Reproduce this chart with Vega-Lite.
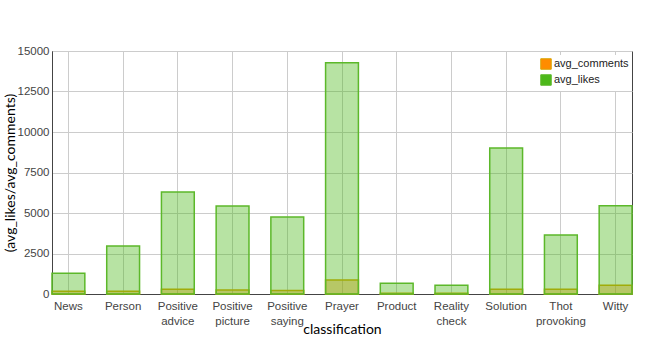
{
  "$schema": "https://vega.github.io/schema/vega-lite/v6.json",
  "width": 580,
  "height": 243,
  "autosize": {"type": "none"},
  "padding": {"left": 52, "top": 51, "right": 15, "bottom": 66},
  "background": "white",
  "config": {
    "view": {"stroke": "#444", "strokeWidth": 1},
    "axis": {
      "labelFont": "Liberation Sans",
      "labelFontSize": 11.5,
      "labelColor": "#444",
      "gridColor": "#cccccc",
      "gridWidth": 1,
      "domainColor": "#444",
      "ticks": false,
      "titleFont": "Lato",
      "titleFontWeight": "normal",
      "titleColor": "#000",
      "titleFontSize": 14
    }
  },
  "data": {
    "values": [
      {"classification": "News", "avg_likes": 1280, "avg_comments": 165},
      {"classification": "Person", "avg_likes": 2960, "avg_comments": 165},
      {"classification": "Positive advice", "avg_likes": 6300, "avg_comments": 290},
      {"classification": "Positive picture", "avg_likes": 5430, "avg_comments": 250},
      {"classification": "Positive saying", "avg_likes": 4750, "avg_comments": 210},
      {"classification": "Prayer", "avg_likes": 14280, "avg_comments": 860},
      {"classification": "Product", "avg_likes": 670, "avg_comments": 45},
      {"classification": "Reality check", "avg_likes": 540, "avg_comments": 50},
      {"classification": "Solution", "avg_likes": 9010, "avg_comments": 290},
      {"classification": "Thot provoking", "avg_likes": 3640, "avg_comments": 290},
      {"classification": "Witty", "avg_likes": 5440, "avg_comments": 540}
    ]
  },
  "transform": [{"fold": ["avg_comments", "avg_likes"], "as": ["series", "value"]}],
  "mark": {"type": "bar", "fillOpacity": 0.4, "strokeWidth": 1.5},
  "encoding": {
    "x": {
      "field": "classification",
      "type": "nominal",
      "sort": null,
      "scale": {"paddingInner": 0.4, "paddingOuter": 0},
      "axis": {
        "title": "classification",
        "labelAngle": 0,
        "labelExpr": "split(datum.label, ' ')",
        "labelPadding": 6,
        "labelLineHeight": 15,
        "grid": true,
        "bandPosition": 0.5,
        "titleX": 290,
        "titleY": 39,
        "titleBaseline": "alphabetic"
      }
    },
    "y": {
      "field": "value",
      "type": "quantitative",
      "stack": null,
      "scale": {"domain": [0, 15000], "nice": false},
      "axis": {
        "title": "(avg_likes/avg_comments)",
        "values": [0, 2500, 5000, 7500, 10000, 12500, 15000],
        "format": "d",
        "labelPadding": 3,
        "titleAngle": -90,
        "titleX": -42,
        "titleY": 121.5,
        "titleAlign": "center",
        "titleBaseline": "middle"
      }
    },
    "fill": {
      "field": "series",
      "type": "nominal",
      "scale": {"domain": ["avg_comments", "avg_likes"], "range": ["#ff8c00", "#4cb81a"]},
      "legend": {
        "title": null,
        "orient": "none",
        "legendX": 485,
        "legendY": 4,
        "fillColor": "white",
        "padding": 3,
        "labelFont": "Liberation Sans",
        "labelFontSize": 11,
        "labelColor": "#222",
        "labelOffset": 2,
        "symbolType": "square",
        "symbolSize": 110,
        "rowPadding": 0,
        "symbolStrokeColor": "#bbbbbb",
        "symbolStrokeWidth": 1,
        "encode": {"symbols": {"update": {"fillOpacity": {"value": 1}, "stroke": {"value": "#bbbbbb"}, "strokeWidth": {"value": 1}}}}
      }
    },
    "stroke": {
      "field": "series",
      "type": "nominal",
      "scale": {"domain": ["avg_comments", "avg_likes"], "range": ["#d9a400", "#5cb82a"]},
      "legend": null
    }
  }
}
